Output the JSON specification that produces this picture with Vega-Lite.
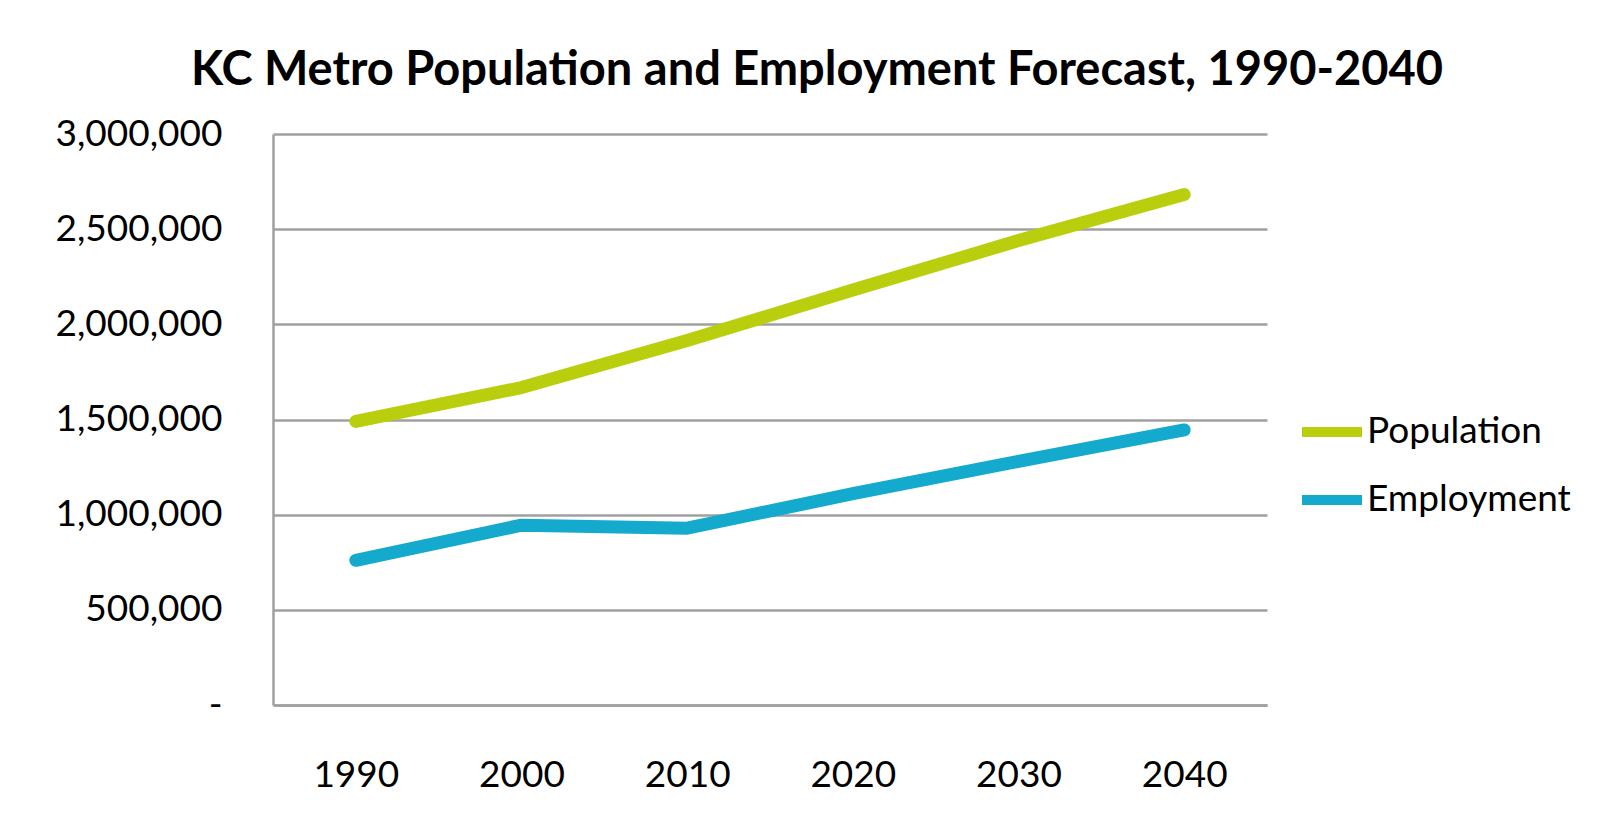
{
  "$schema": "https://vega.github.io/schema/vega-lite/v6.json",
  "autosize": "none",
  "width": 994,
  "height": 571,
  "padding": {"left": 273, "top": 134, "right": 343, "bottom": 116},
  "background": "white",
  "title": {
    "text": "KC Metro Population and Employment Forecast, 1990-2040",
    "font": "Lato",
    "fontWeight": "bold",
    "fontSize": 47,
    "color": "#000000",
    "anchor": "middle",
    "frame": "group",
    "dx": 47,
    "offset": 20
  },
  "data": {
    "values": [
      {"year": "1990", "series": "Population", "value": 1490000},
      {"year": "2000", "series": "Population", "value": 1668000},
      {"year": "2010", "series": "Population", "value": 1915000},
      {"year": "2020", "series": "Population", "value": 2180000},
      {"year": "2030", "series": "Population", "value": 2440000},
      {"year": "2040", "series": "Population", "value": 2682000},
      {"year": "1990", "series": "Employment", "value": 760000},
      {"year": "2000", "series": "Employment", "value": 945000},
      {"year": "2010", "series": "Employment", "value": 929000},
      {"year": "2020", "series": "Employment", "value": 1110000},
      {"year": "2030", "series": "Employment", "value": 1280000},
      {"year": "2040", "series": "Employment", "value": 1445000}
    ]
  },
  "mark": {"type": "line", "strokeWidth": 13, "strokeCap": "round", "strokeJoin": "round"},
  "encoding": {
    "x": {
      "field": "year",
      "type": "ordinal",
      "scale": {"type": "point", "padding": 0.5},
      "axis": {
        "title": null,
        "labelAngle": 0,
        "ticks": false,
        "domain": true,
        "domainColor": "#a0a0a0",
        "domainWidth": 2.5,
        "grid": false,
        "labelFont": "Lato",
        "labelFontSize": 37,
        "labelColor": "#000000",
        "labelPadding": 52
      }
    },
    "y": {
      "field": "value",
      "type": "quantitative",
      "scale": {"domain": [0, 3000000], "nice": false},
      "axis": {
        "title": null,
        "values": [0, 500000, 1000000, 1500000, 2000000, 2500000, 3000000],
        "labelExpr": "datum.value == 0 ? '-\u2007' : format(datum.value, ',')",
        "ticks": false,
        "domain": true,
        "domainColor": "#a0a0a0",
        "domainWidth": 2.5,
        "grid": true,
        "gridColor": "#a0a0a0",
        "gridWidth": 2.5,
        "labelFont": "Lato",
        "labelFontSize": 37,
        "labelColor": "#000000",
        "labelPadding": 51
      }
    },
    "color": {
      "field": "series",
      "type": "nominal",
      "sort": ["Population", "Employment"],
      "scale": {"domain": ["Population", "Employment"], "range": ["#b9cf0d", "#13aacd"]},
      "legend": {
        "title": null,
        "orient": "none",
        "legendX": 1024,
        "legendY": 263,
        "symbolType": "stroke",
        "symbolSize": 3600,
        "symbolStrokeWidth": 10,
        "labelFont": "Lato",
        "labelFontSize": 37,
        "labelColor": "#000000",
        "labelOffset": 0,
        "labelLimit": 500,
        "rowPadding": 13
      }
    }
  },
  "config": {"view": {"stroke": null}}
}
